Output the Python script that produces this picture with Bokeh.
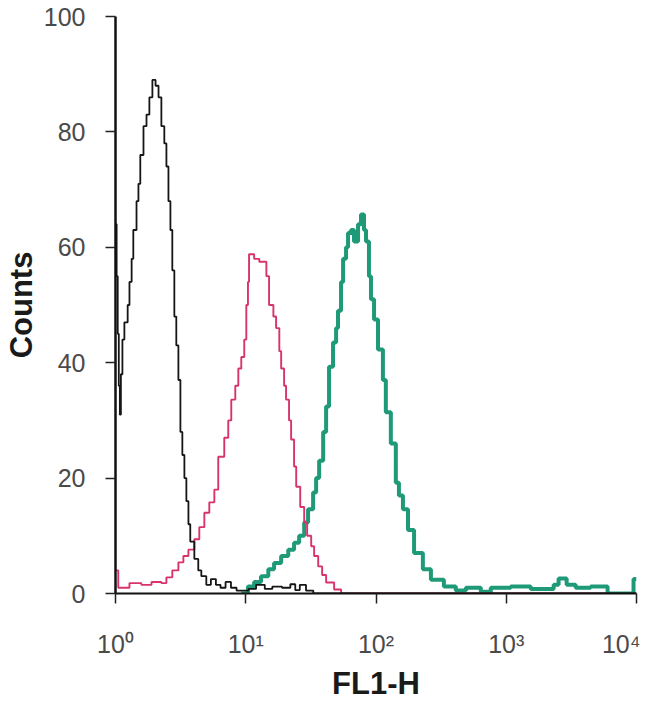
from bokeh.plotting import figure
from bokeh.models import Range1d, FixedTicker
from bokeh.embed import file_html
from bokeh.resources import INLINE

# ---- data ----
x_ticks = [1, 10, 100, 1000, 10000]
x_tick_labels = ["10⁰", "10¹", "10²", "10³", "10⁴"]
y_ticks = [0, 20, 40, 60, 80, 100]

black_x = [1.00, 1.02, 1.04, 1.06, 1.08, 1.10, 1.13, 1.17, 1.24, 1.28, 1.33, 1.37, 1.45,
           1.50, 1.55, 1.64, 1.73, 1.82, 1.92, 2.03, 2.14, 2.25, 2.37, 2.46, 2.55, 2.64,
           2.73, 2.83, 2.93, 3.04, 3.15, 3.26, 3.38, 3.50, 3.63, 3.75, 4.03, 4.32, 4.56,
           4.98, 5.40, 5.90, 6.40, 7.00, 7.70, 8.50, 10.5, 12.0, 14.0, 16.0, 19.0, 22.0,
           24.0, 26.0, 29.0, 33.0, 10000]
black_y = [64, 55, 45, 36, 31, 38, 44, 47, 50, 54, 58, 63, 68,
           71, 76, 81, 83, 86, 89, 88, 86, 81, 78, 74, 68, 63,
           56, 48, 43, 37, 28, 24, 20, 16, 12, 9, 6, 4, 3,
           1.5, 2.5, 1.5, 1.0, 2.0, 1.0, 0.5, 0.8, 1.5, 0.8, 1.2, 1.0, 1.6,
           0.6, 1.5, 0.5, 0, 0]

pink_x = [1.00, 1.05, 1.28, 1.58, 1.89, 2.25, 2.46, 2.73, 3.04, 3.32, 3.63, 4.03, 4.40,
          4.81, 5.25, 5.74, 6.15, 6.84, 7.34, 7.74, 8.31, 8.77, 9.24, 9.74, 10.1, 10.4,
          10.6, 11.6, 12.7, 14.4, 15.1, 16.3, 17.1, 18.1, 18.7, 19.7, 20.4, 21.5, 22.3,
          23.5, 24.4, 26.2, 28.1, 29.6, 31.8, 33.5, 36.0, 38.6, 41.4, 47.7, 54.0, 6000]
pink_y = [4, 1.0, 1.8, 1.5, 2.0, 1.8, 2.8, 4.0, 5.4, 6.5, 7.6, 9.4, 11.5,
          14, 15.8, 18, 23.7, 27, 30, 33.6, 36, 39, 41, 44, 50, 54,
          58.8, 58, 57.5, 55, 50, 48, 46, 42, 39, 36, 33.6, 30, 26.7,
          22, 18.5, 15, 12.3, 10, 8.2, 6.5, 4.7, 3.2, 1.9, 0.7, 0, 0]

green_x = [9.24, 10.4, 11.6, 13.1, 14.9, 16.5, 18.7, 21.2, 23.5, 25.7, 28.1, 30.1, 32.9,
           34.7, 36.6, 39.3, 41.4, 43.6, 46.8, 49.4, 51.1, 53.9, 55.9, 58.9, 61.0, 64.3,
           67.8, 72.8, 76.7, 80.9, 83.8, 88.3, 91.5, 96.6, 103.6, 113, 119, 130, 142,
           150, 161, 176, 196, 229, 264, 332, 410, 490, 638, 761, 1082, 1542, 2312,
           2523, 2909, 3413, 4446, 5998, 9490, 10000]
green_y = [0, 1.2, 2.0, 3.0, 4.2, 5.3, 6.5, 7.6, 8.8, 10, 12.3, 14.6, 17.5,
           20, 23, 28, 32.4, 39.3, 43.5, 46, 49, 54, 58, 60, 62.5, 63,
           61, 64, 65.7, 63, 61, 55, 51, 47.5, 42.3, 37, 31.4, 26, 19.2,
           17, 14.6, 11, 7, 4.2, 2.4, 1.2, 0.5, 1.0, 0.3, 1.0, 1.2, 0.8, 1.5,
           2.6, 1.5, 1.0, 1.2, 0, 2.5, 2.5]

# ---- figure ----
p = figure(x_axis_type="log", x_range=Range1d(1, 10000), y_range=Range1d(0, 100),
           width=640, height=703,
           min_border_left=114, min_border_top=16, min_border_right=4, min_border_bottom=110,
           output_backend="svg", toolbar_location=None,
           x_axis_label="FL1-H", y_axis_label="Counts")

p.step(green_x, green_y, mode="after", line_color="#1f9a78", line_width=4)
p.step(pink_x, pink_y, mode="after", line_color="#d8336e", line_width=1.9)
p.step(black_x, black_y, mode="after", line_color="#151515", line_width=1.8)

p.grid.visible = False
p.outline_line_color = None
p.background_fill_color = "white"
p.border_fill_color = "white"

p.xaxis.ticker = FixedTicker(ticks=x_ticks)
p.xaxis.major_label_overrides = {t: lab for t, lab in zip(x_ticks, x_tick_labels)}
p.yaxis.ticker = FixedTicker(ticks=y_ticks)

for ax in (p.xaxis[0], p.yaxis[0]):
    ax.major_tick_out = 10
    ax.major_tick_in = 0
    ax.minor_tick_line_color = None
    ax.major_tick_line_color = "#222222"
    ax.major_tick_line_width = 1.5
    ax.axis_line_color = "#111111"
    ax.major_label_text_font = "Liberation Sans"
    ax.major_label_text_font_size = "25px"
    ax.major_label_text_color = "#4a4a4a"
    ax.axis_label_text_font = "Liberation Sans"
    ax.axis_label_text_font_style = "bold"
    ax.axis_label_text_font_size = "31px"
    ax.axis_label_text_color = "#1a1a1a"

p.yaxis.axis_line_width = 2.5
p.xaxis.axis_line_width = 2
p.yaxis.major_label_standoff = 20
p.xaxis.major_label_standoff = 26
p.yaxis.axis_label_standoff = 2
p.xaxis.axis_label_standoff = 5

open("out.html", "w").write(file_html(p, INLINE))
